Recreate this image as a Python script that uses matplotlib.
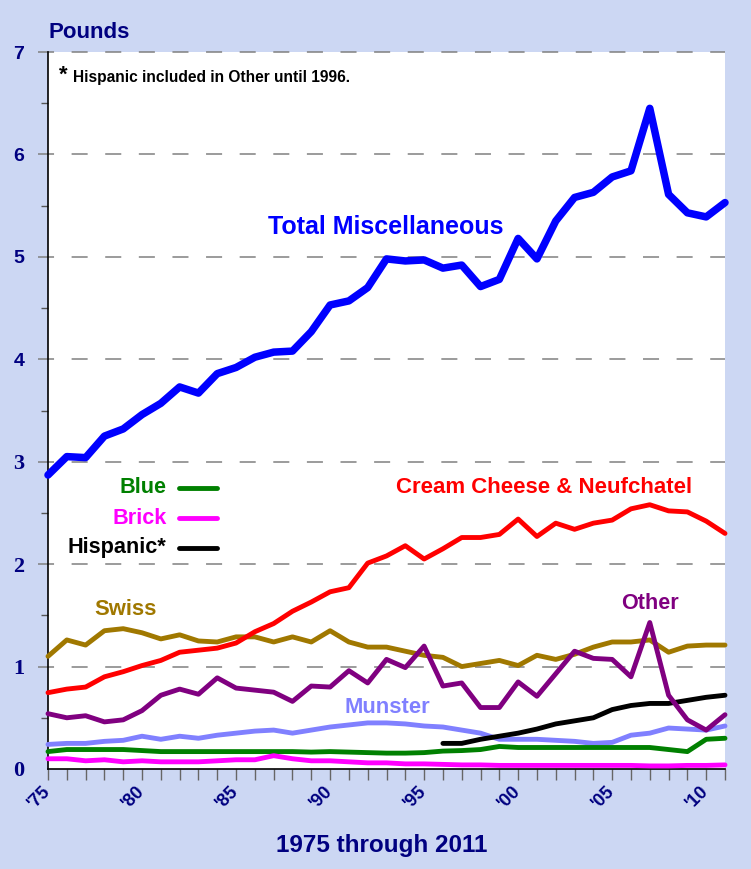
import matplotlib
matplotlib.use('Agg')
import matplotlib.pyplot as plt

# Per capita consumption, miscellaneous cheese, pounds
years = list(range(1975, 2012))

total_misc = [2.87, 3.05, 3.04, 3.25, 3.32, 3.46, 3.57, 3.73, 3.67, 3.86,
              3.92, 4.02, 4.07, 4.08, 4.27, 4.53, 4.57, 4.70, 4.98, 4.96,
              4.97, 4.89, 4.92, 4.71, 4.78, 5.18, 4.98, 5.35, 5.58, 5.63,
              5.78, 5.84, 6.45, 5.61, 5.43, 5.39, 5.53]

cream_cheese = [0.745, 0.78, 0.80, 0.90, 0.95, 1.01, 1.06, 1.14, 1.16, 1.18,
                1.23, 1.34, 1.42, 1.54, 1.63, 1.73, 1.77, 2.01, 2.08, 2.18,
                2.05, 2.15, 2.26, 2.26, 2.29, 2.44, 2.27, 2.40, 2.34, 2.40,
                2.43, 2.54, 2.58, 2.52, 2.51, 2.42, 2.30]

swiss = [1.10, 1.26, 1.21, 1.35, 1.37, 1.33, 1.27, 1.31, 1.25, 1.24,
         1.29, 1.29, 1.24, 1.29, 1.24, 1.35, 1.24, 1.19, 1.19, 1.15,
         1.11, 1.09, 1.00, 1.03, 1.06, 1.01, 1.11, 1.07, 1.12, 1.19,
         1.24, 1.24, 1.26, 1.14, 1.20, 1.21, 1.21]

other = [0.54, 0.50, 0.52, 0.46, 0.48, 0.57, 0.72, 0.78, 0.73, 0.89,
         0.79, 0.77, 0.75, 0.66, 0.81, 0.80, 0.96, 0.84, 1.07, 0.99,
         1.20, 0.81, 0.84, 0.60, 0.60, 0.85, 0.71, 0.93, 1.15, 1.08,
         1.07, 0.90, 1.43, 0.72, 0.48, 0.38, 0.53]

munster = [0.24, 0.25, 0.25, 0.27, 0.28, 0.32, 0.29, 0.32, 0.30, 0.33,
           0.35, 0.37, 0.38, 0.35, 0.38, 0.41, 0.43, 0.45, 0.45, 0.44,
           0.42, 0.41, 0.38, 0.35, 0.29, 0.29, 0.29, 0.28, 0.27, 0.25,
           0.26, 0.33, 0.35, 0.40, 0.39, 0.38, 0.42]

blue = [0.17, 0.19, 0.19, 0.19, 0.19, 0.18, 0.17, 0.17, 0.17, 0.17,
        0.17, 0.17, 0.17, 0.17, 0.165, 0.17, 0.165, 0.16, 0.155, 0.155,
        0.16, 0.175, 0.18, 0.19, 0.22, 0.21, 0.21, 0.21, 0.21, 0.21,
        0.21, 0.21, 0.21, 0.19, 0.17, 0.29, 0.30]

brick = [0.10, 0.10, 0.08, 0.09, 0.07, 0.08, 0.07, 0.07, 0.07, 0.08,
         0.09, 0.09, 0.13, 0.10, 0.08, 0.08, 0.07, 0.06, 0.06, 0.05,
         0.05, 0.045, 0.04, 0.04, 0.035, 0.035, 0.035, 0.035, 0.035, 0.035,
         0.035, 0.035, 0.03, 0.03, 0.035, 0.035, 0.04]

hisp_years = list(range(1996, 2012))
hispanic = [0.25, 0.25, 0.29, 0.32, 0.35, 0.39, 0.44, 0.47, 0.50, 0.58,
            0.62, 0.64, 0.64, 0.67, 0.70, 0.72]

xtick_years = [1975, 1980, 1985, 1990, 1995, 2000, 2005, 2010]
xtick_labels = ["'75", "'80", "'85", "'90", "'95", "'00", "'05", "'10"]

NAVY = '#000080'
BG = '#CCD7F3'
SANS = 'Liberation Sans'
SERIF = 'Liberation Serif'

fig = plt.figure(figsize=(7.51, 8.69), dpi=100, facecolor=BG)
ax = fig.add_axes([48 / 751, 100 / 869, 677 / 751, 717 / 869])
ax.set_facecolor('white')

# gridlines
for v in range(1, 8):
    ax.axhline(v, color='#808080', lw=1.1, dashes=(10.5, 11.5), zorder=1,
               xmin=-0.015, clip_on=False)

ax.plot(years, total_misc, color='#0000FF', lw=5.4, solid_joinstyle='round',
        solid_capstyle='round', zorder=5, clip_on=False)
ax.plot(years, cream_cheese, color='#FF0000', lw=3.5, solid_capstyle='round', zorder=4, clip_on=False)
ax.plot(years, swiss, color='#A07800', lw=3.5, solid_capstyle='round', zorder=3, clip_on=False)
ax.plot(years, other, color='#800080', lw=3.5, solid_capstyle='round', zorder=4, clip_on=False)
ax.plot(years, munster, color='#8080FF', lw=3.5, solid_capstyle='round', zorder=3, clip_on=False)
ax.plot(hisp_years, hispanic, color='black', lw=3.5, solid_capstyle='round', zorder=3, clip_on=False)
ax.plot(years, blue, color='#008000', lw=3.5, solid_capstyle='round', zorder=3, clip_on=False)
ax.plot(years, brick, color='#FF00FF', lw=3.5, solid_capstyle='round', zorder=3, clip_on=False)

ax.set_xlim(1975, 2011)
ax.set_ylim(0, 7)

for s in ['top', 'right']:
    ax.spines[s].set_visible(False)
ax.spines['left'].set_linewidth(1.2)
ax.spines['bottom'].set_linewidth(1.2)

# y axis ticks
ax.set_yticks(range(0, 8))
ax.set_yticks([v + 0.5 for v in range(0, 7)], minor=True)
ax.tick_params(axis='y', which='major', length=0, pad=17)
ax.tick_params(axis='y', which='minor', length=5, width=1, color='#555555')
ylabels = ax.set_yticklabels([str(v) for v in range(0, 8)])
for v, t in zip(range(0, 8), ylabels):
    t.set_color(NAVY)
    t.set_fontweight('bold')
    if v >= 4:
        t.set_fontfamily(SANS)
        t.set_fontsize(14)
    else:
        t.set_fontfamily(SERIF)
        t.set_fontsize(16)

# x axis ticks
ax.set_xticks(years)
ax.set_xticklabels([])
ax.tick_params(axis='x', length=8, width=1, color='#666666', direction='out')
for yr, lab in zip(xtick_years, xtick_labels):
    ax.text(yr - 0.35, -0.13, lab, rotation=45, ha='right', va='top',
            rotation_mode='anchor', fontsize=13, fontweight='bold', color=NAVY,
            family=SANS, clip_on=False)

fig.text(0.508, 0.014, '1975 through 2011', ha='center', va='bottom',
         fontsize=17.5, fontweight='bold', color=NAVY, family=SANS)
fig.text(48 / 751, 1 - 33 / 869, 'Pounds', ha='left', va='center',
         fontsize=16, fontweight='bold', color=NAVY, family=SANS)

# footnote
ax.text(1975.6, 6.88, '*', fontsize=16, fontweight='bold', color='black',
        family=SANS, va='top', ha='left')
ax.text(1976.35, 6.82, 'Hispanic included in Other until 1996.', fontsize=11.2,
        fontweight='bold', color='black', family=SANS, va='top', ha='left')

# series labels
ax.text(1992.98, 5.29, 'Total Miscellaneous', color='#0000FF', fontsize=18,
        fontweight='bold', ha='center', va='center', family=SANS)
ax.text(2001.36, 2.744, 'Cream Cheese & Neufchatel', color='#FF0000', fontsize=16,
        fontweight='bold', ha='center', va='center', family=SANS)
ax.text(1979.1, 1.553, 'Swiss', color='#A07800', fontsize=15.8,
        fontweight='bold', ha='center', va='center', family=SANS)
ax.text(2007.02, 1.62, 'Other', color='#800080', fontsize=15.6,
        fontweight='bold', ha='center', va='center', family=SANS)
ax.text(1993.03, 0.605, 'Munster', color='#8080FF', fontsize=15.8,
        fontweight='bold', ha='center', va='center', family=SANS)

# hand-placed legend
legend_items = [('Blue', '#008000', 2.744), ('Brick', '#FF00FF', 2.45),
                ('Hispanic*', 'black', 2.158)]
for name, col, ypos in legend_items:
    ax.text(1981.3, ypos, name, color=col, fontsize=15.6, fontweight='bold',
            ha='right', va='center', family=SANS)
    ax.plot([1981.95, 1984.0], [ypos, ypos], color=col, lw=3.5,
            solid_capstyle='round', zorder=3)

fig.savefig('out.png', dpi=100, facecolor=BG)
